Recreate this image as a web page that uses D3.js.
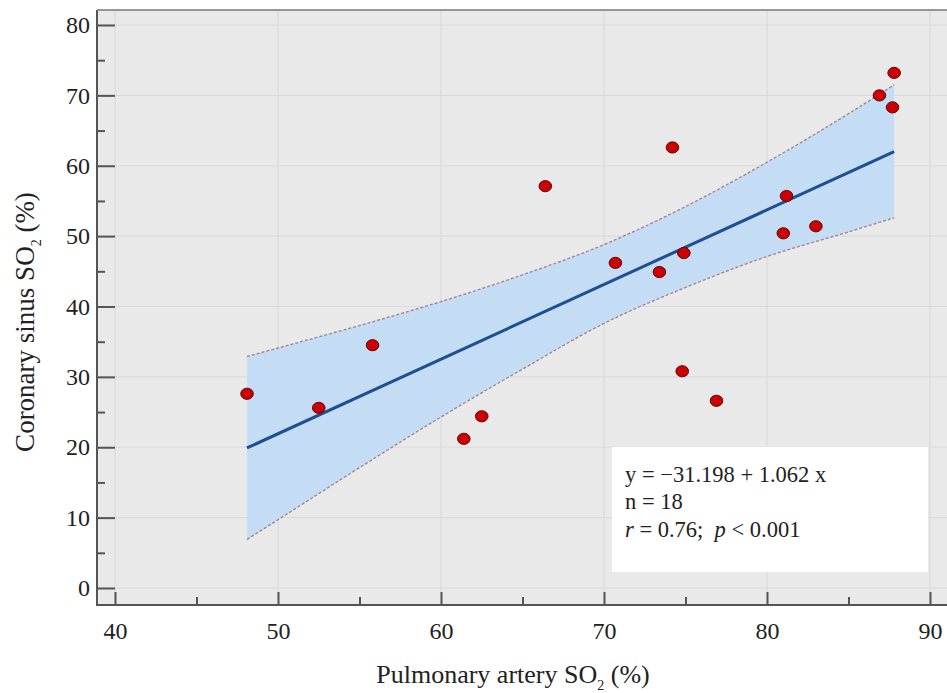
<!DOCTYPE html>
<html>
<head>
<meta charset="utf-8">
<script src="https://cdn.jsdelivr.net/npm/d3@7"></script>
<style>
  html, body { margin: 0; padding: 0; background: #ffffff; }
  svg { display: block; }
  text { font-family: "Liberation Serif", "Times New Roman", serif; fill: #222; }
</style>
</head>
<body>
<svg id="chart" width="947" height="693"></svg>
<script>
// ---- data ----
const pointsX = [48.1, 52.5, 55.8, 61.4, 62.5, 66.4, 70.7, 73.4, 74.2, 74.9, 74.8, 76.9, 81.0, 81.2, 83.0, 86.9, 87.8, 87.7];
const pointsY = [27.6, 25.6, 34.5, 21.2, 24.4, 57.1, 46.2, 44.9, 62.6, 47.6, 30.8, 26.6, 50.4, 55.7, 51.4, 70.0, 73.2, 68.3];

const fitX = [48.1, 87.8];
const fitY = [19.9, 62.0];

const bandX     = [48.1, 50.0, 55.0, 60.0, 65.0, 70.0, 75.0, 80.0, 85.0, 87.8];
const bandUpper = [32.9, 34.1, 37.3, 40.7, 44.5, 48.8, 54.2, 60.5, 67.4, 71.5];
const bandLower = [ 6.9,  9.7, 17.1, 24.3, 31.1, 37.6, 42.7, 47.1, 50.6, 52.6];

const xMajorTicks = [40, 50, 60, 70, 80, 90];
const xMinorTicks = [45, 55, 65, 75, 85];
const yMajorTicks = [0, 10, 20, 30, 40, 50, 60, 70, 80];
const yMinorTicks = [5, 15, 25, 35, 45, 55, 65, 75];

const statLines = ["y = \u221231.198 + 1.062 x", "n = 18"];
const xTitle = "Pulmonary artery SO";
const yTitle = "Coronary sinus SO";

// ---- layout ----
const svg = d3.select("#chart");
const frameL = 97, frameR = 947, frameT = 10, frameB = 605;

const x = d3.scaleLinear().domain([40, 90]).range([115, 930]);
const y = d3.scaleLinear().domain([0, 80]).range([588, 25]);

// background
svg.append("rect")
  .attr("x", frameL).attr("y", frameT)
  .attr("width", frameR - frameL).attr("height", frameB - frameT)
  .attr("fill", "#e9e9e9");

// gridlines
svg.append("g").selectAll("line").data(yMajorTicks).join("line")
  .attr("x1", frameL).attr("x2", frameR)
  .attr("y1", d => y(d)).attr("y2", d => y(d))
  .attr("stroke", "#dadada").attr("stroke-width", 1.2);
svg.append("g").selectAll("line").data(xMajorTicks).join("line")
  .attr("y1", frameT).attr("y2", frameB)
  .attr("x1", d => x(d)).attr("x2", d => x(d))
  .attr("stroke", "#dadada").attr("stroke-width", 1.2);

// confidence band
const bandData = bandX.map((v, i) => ({x: v, lo: bandLower[i], hi: bandUpper[i]}));
svg.append("path")
  .datum(bandData)
  .attr("d", d3.area().x(d => x(d.x)).y0(d => y(d.lo)).y1(d => y(d.hi)).curve(d3.curveMonotoneX))
  .attr("fill", "#c4ddf4");

const edge = key => d3.line().x(d => x(d.x)).y(d => y(d[key])).curve(d3.curveMonotoneX);
["hi", "lo"].forEach(k => {
  svg.append("path").datum(bandData)
    .attr("d", edge(k))
    .attr("fill", "none")
    .attr("stroke", "#a07f8c")
    .attr("stroke-width", 1.3)
    .attr("stroke-dasharray", "3,2");
});

// regression line
svg.append("path")
  .datum(fitX.map((v, i) => [v, fitY[i]]))
  .attr("d", d3.line().x(d => x(d[0])).y(d => y(d[1])))
  .attr("stroke", "#1d4f91").attr("stroke-width", 3).attr("fill", "none");

// points
svg.append("g").selectAll("ellipse").data(pointsX.map((v, i) => [v, pointsY[i]])).join("ellipse")
  .attr("cx", d => x(d[0])).attr("cy", d => y(d[1]))
  .attr("rx", 6.3).attr("ry", 5.6)
  .attr("fill", "#cc0000")
  .attr("stroke", "#5a0a0a").attr("stroke-width", 1);

// axes
const axisColor = "#555";
const yAxis = svg.append("g").attr("transform", `translate(${frameL},0)`)
  .call(d3.axisLeft(y).tickValues(yMajorTicks).tickSize(-18).tickPadding(7).tickSizeOuter(0));
const yMinor = svg.append("g").attr("transform", `translate(${frameL},0)`)
  .call(d3.axisLeft(y).tickValues(yMinorTicks).tickSize(-8).tickFormat("").tickSizeOuter(0));
const xAxis = svg.append("g").attr("transform", `translate(0,${frameB})`)
  .call(d3.axisBottom(x).tickValues(xMajorTicks).tickSize(-13).tickPadding(17).tickSizeOuter(0));
const xMinor = svg.append("g").attr("transform", `translate(0,${frameB})`)
  .call(d3.axisBottom(x).tickValues(xMinorTicks).tickSize(-8).tickFormat("").tickSizeOuter(0));

[yAxis, yMinor, xAxis, xMinor].forEach(g => {
  g.select(".domain").remove();
  g.selectAll(".tick line").attr("stroke", axisColor).attr("stroke-width", 2);
  g.selectAll(".tick text")
    .style("font-family", "'Liberation Serif', 'Times New Roman', serif")
    .style("font-size", "24px").attr("fill", "#222");
});

// frame lines
svg.append("line").attr("x1", frameL).attr("x2", frameL).attr("y1", frameT).attr("y2", frameB + 1)
  .attr("stroke", axisColor).attr("stroke-width", 2);
svg.append("line").attr("x1", frameL - 1).attr("x2", frameR).attr("y1", frameB).attr("y2", frameB)
  .attr("stroke", axisColor).attr("stroke-width", 2);
svg.append("line").attr("x1", frameL).attr("x2", frameR).attr("y1", frameT).attr("y2", frameT)
  .attr("stroke", "#777").attr("stroke-width", 1.5);

// axis titles
const xt = svg.append("text").attr("x", 513).attr("y", 683)
  .attr("text-anchor", "middle").style("font-size", "26px");
xt.append("tspan").text(xTitle);
xt.append("tspan").text("2").style("font-size", "14px").attr("dy", 7);
xt.append("tspan").text(" (%)").attr("dy", -7);

const yt = svg.append("text").attr("transform", "translate(34,322) rotate(-90)")
  .attr("text-anchor", "middle").style("font-size", "27px");
yt.append("tspan").text(yTitle);
yt.append("tspan").text("2").style("font-size", "14px").attr("dy", 7);
yt.append("tspan").text(" (%)").attr("dy", -7);

// stats box
svg.append("rect").attr("x", 612).attr("y", 447).attr("width", 316).attr("height", 125)
  .attr("fill", "#ffffff");
statLines.forEach((s, i) => {
  svg.append("text").attr("x", 625).attr("y", 482 + i * 27)
    .style("font-size", "22.5px").text(s);
});
const st = svg.append("text").attr("x", 625).attr("y", 537).style("font-size", "22.5px");
st.append("tspan").text("r").style("font-style", "italic");
st.append("tspan").text(" = 0.76;\u00a0\u00a0");
st.append("tspan").text("p").style("font-style", "italic");
st.append("tspan").text(" < 0.001");
</script>
</body>
</html>
